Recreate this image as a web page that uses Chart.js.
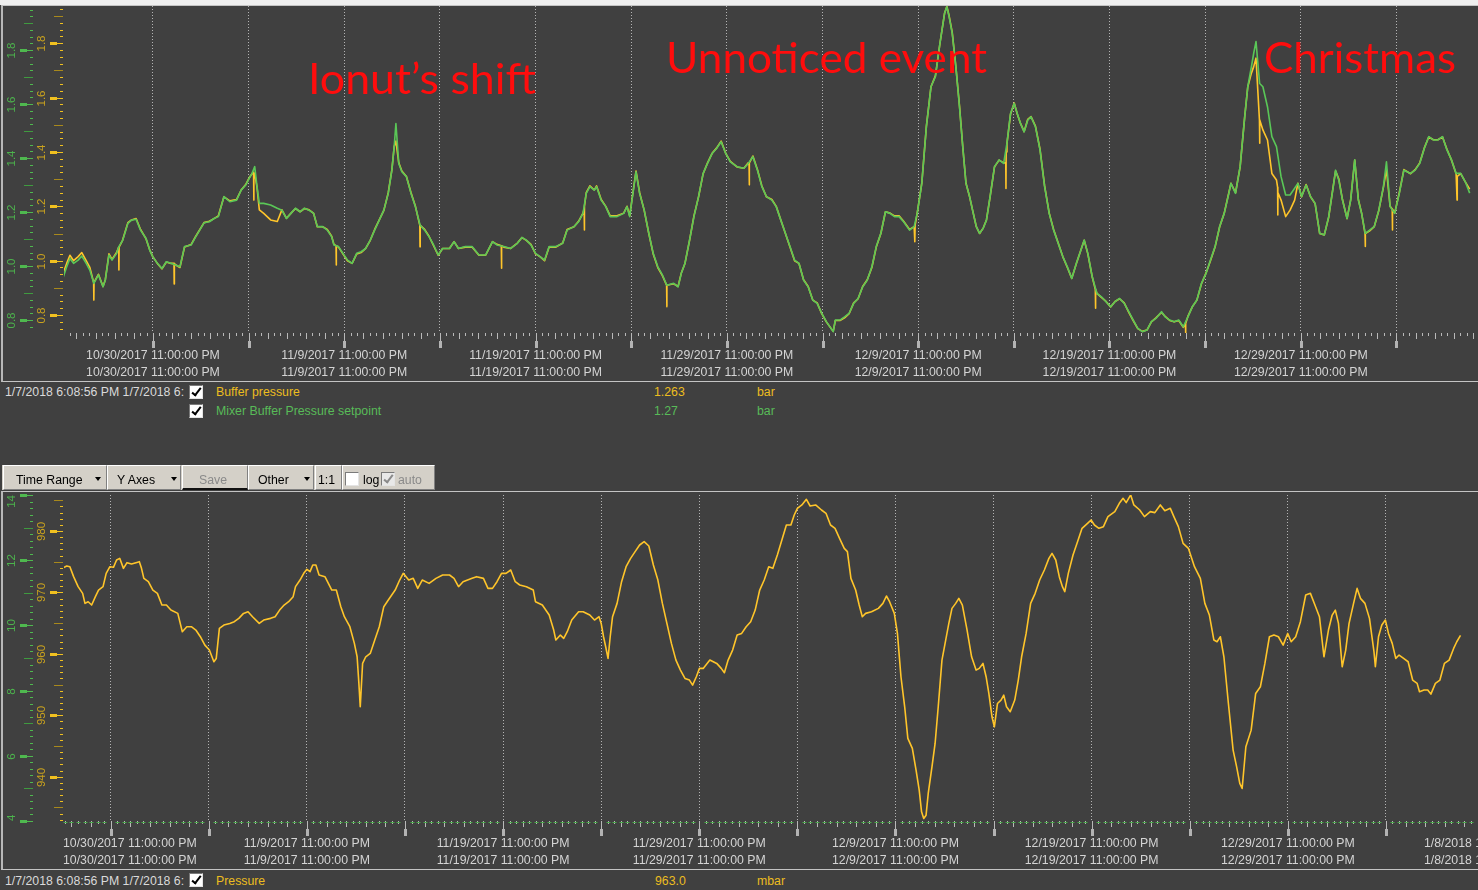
<!DOCTYPE html>
<html lang="en">
<head>
<meta charset="utf-8">
<title>Buffer pressure trend</title>
<script src="https://cdn.jsdelivr.net/npm/chart.js@4.4.1/dist/chart.umd.min.js"></script>
<style>
  html, body { margin: 0; padding: 0; }
  body { width: 1478px; height: 890px; overflow: hidden; position: relative; background: #efefef;
         font-family: "Liberation Sans", Arial, sans-serif; }
  #bg { position: absolute; left: 0; top: 5px; width: 1478px; height: 885px; background: #404040; }
  .frame { position: absolute; left: 1px; width: 1477px; box-sizing: border-box;
           border-top: 1px solid #c4c4c4; border-bottom: 1px solid #c4c4c4; border-left: 2px solid #b8b8b8; }
  canvas { position: absolute; left: 0; }
  .txt { position: absolute; white-space: nowrap; font-size: 12.3px; line-height: 14px; color: #dadada; }
  .stamp { width: 179px; overflow: hidden; }
  .yel { color: #ecbd1f; }
  .grn { color: #58bb58; }
  .cb { position: absolute; width: 14px; height: 14px; box-sizing: border-box; background: #fff;
        border-top: 1px solid #7a7a7a; border-left: 1px solid #7a7a7a;
        border-right: 1px solid #e4e4e4; border-bottom: 1px solid #e4e4e4; }
  .cb.on::after { content: ''; position: absolute; left: 4px; top: 0px; width: 3px; height: 8px;
        border: solid #000; border-width: 0 2px 2px 0; transform: rotate(38deg); }
  .cb.dis { background: #e8e8e8; }
  .cb.dis::after { border-color: #8a8a8a; }
  .note { position: absolute; font-family: Lato, "Open Sans", sans-serif; font-size: 42px; line-height: 42px;
          color: #ff0d0d; white-space: nowrap; transform-origin: 0 0; z-index: 5; }
  #toolbar { position: absolute; left: 2px; top: 465px; width: 433px; height: 25px; background: #d4d0c8; }
  .btn { position: absolute; top: 0; height: 25px; box-sizing: border-box; background: #d4d0c8;
         border-top: 1px solid #fff; border-left: 1px solid #fff;
         border-right: 1px solid #808080; border-bottom: 1px solid #808080;
         font-size: 12.3px; line-height: 28px; color: #000; white-space: nowrap; }
  .btn span, .btn i { position: absolute; }
  .tri { top: 11px; width: 0; height: 0; border-left: 3px solid transparent; border-right: 3px solid transparent;
         border-top: 4px solid #000; }
  .grp span { position: absolute; top: 0; }
</style>
</head>
<body>
<div id="bg"></div>
<div class="frame" style="top:5px;height:377px"></div>
<div class="frame" style="top:491px;height:379px"></div>

<canvas id="topChart" width="1478" height="382" style="top:0;width:1478px;height:382px"></canvas>
<canvas id="bottomChart" width="1478" height="380" style="top:490px;width:1478px;height:380px"></canvas>

<div class="note" data-w="228" style="left:308px;top:57px">Ionut’s shift</div>
<div class="note" data-w="321" style="left:666px;top:36px">Unnoticed event</div>
<div class="note" data-w="192" style="left:1264px;top:36px">Christmas</div>

<!-- top panel legend -->
<div class="txt stamp" style="left:5px;top:385px">1/7/2018 6:08:56 PM 1/7/2018 6:08:56 PM</div>
<div class="cb on" style="left:189px;top:385px"></div>
<div class="txt yel" style="left:216px;top:385px">Buffer pressure</div>
<div class="txt yel" id="bufNow" style="left:654px;top:385px"></div>
<div class="txt yel" style="left:757px;top:385px">bar</div>
<div class="cb on" style="left:189px;top:404px"></div>
<div class="txt grn" style="left:216px;top:404px">Mixer Buffer Pressure setpoint</div>
<div class="txt grn" id="setNow" style="left:654px;top:404px"></div>
<div class="txt grn" style="left:757px;top:404px">bar</div>

<!-- toolbar -->
<div id="toolbar">
  <div class="btn" style="left:1px;width:104px"><span style="left:12px">Time Range</span><i class="tri" style="left:91px"></i></div>
  <div class="btn" style="left:105px;width:74px"><span style="left:9px">Y Axes</span><i class="tri" style="left:63px"></i></div>
  <div class="btn" style="left:180px;width:66px;border-bottom:2px solid #111"><span style="left:16px;color:#8a8a8a">Save</span></div>
  <div class="btn" style="left:246px;width:66px"><span style="left:9px">Other</span><i class="tri" style="left:55px"></i></div>
  <div class="btn" style="left:313px;width:27px"><span style="left:2px">1:1</span></div>
  <div class="btn grp" style="left:340px;width:93px">
    <div class="cb" style="left:2px;top:6px;width:14px;height:14px"></div>
    <span style="left:20px">log</span>
    <div class="cb on dis" style="left:38px;top:6px;width:14px;height:14px"></div>
    <span style="left:55px;color:#8a8a8a">auto</span>
  </div>
</div>

<!-- bottom panel legend -->
<div class="txt stamp" style="left:5px;top:874px">1/7/2018 6:08:56 PM 1/7/2018 6:08:56 PM</div>
<div class="cb on" style="left:189px;top:873px"></div>
<div class="txt yel" style="left:216px;top:874px">Pressure</div>
<div class="txt yel" id="presNow" style="left:655px;top:874px"></div>
<div class="txt yel" style="left:757px;top:874px">mbar</div>

<script>
// Time is measured in days from 10/30/2017 11:00:00 PM.

// ---------- top panel: Buffer pressure (bar) ----------
const bufferDays = [
  -4.74, -4.51, -4.34, -4.15, -3.91, -3.72, -3.49, -3.30, -3.10, -3.09,
  -3.08, -2.85, -2.61, -2.49, -2.30, -2.14, -1.90, -1.79, -1.78, -1.77,
  -1.59, -1.31, -1.12, -0.88, -0.65, -0.36, -0.17, -0.01, 0.23, 0.47,
  0.70, 0.94, 1.10, 1.11, 1.12, 1.18, 1.41, 1.65, 2.00, 2.24,
  2.67, 2.95, 3.19, 3.42, 3.71, 4.02, 4.37, 4.61, 4.85, 5.03,
  5.18, 5.26, 5.27, 5.28, 5.32, 5.44, 5.56, 5.79, 6.15, 6.50,
  6.74, 6.98, 7.21, 7.45, 7.69, 7.92, 8.16, 8.40, 8.59, 8.87,
  9.11, 9.34, 9.46, 9.57, 9.58, 9.59, 9.70, 9.93, 10.17, 10.41,
  10.65, 10.88, 11.12, 11.36, 11.59, 11.83, 12.07, 12.30, 12.49, 12.61,
  12.70, 12.85, 13.01, 13.25, 13.49, 13.72, 13.95, 13.96, 13.97, 14.20,
  14.43, 14.67, 14.91, 15.14, 15.50, 15.74, 15.97, 16.33, 16.68, 17.04,
  17.39, 17.75, 17.98, 18.21, 18.22, 18.23, 18.34, 18.70, 19.05, 19.29,
  19.52, 19.76, 20.00, 20.23, 20.47, 20.71, 21.06, 21.42, 21.65, 22.01,
  22.25, 22.48, 22.54, 22.55, 22.56, 22.65, 22.84, 23.07, 23.19, 23.43,
  23.67, 23.90, 24.26, 24.61, 24.78, 24.92, 25.09, 25.25, 25.44, 25.68,
  25.92, 26.15, 26.39, 26.63, 26.85, 26.86, 26.87, 27.22, 27.45, 27.62,
  27.81, 28.05, 28.28, 28.52, 28.76, 28.99, 29.23, 29.47, 29.70, 29.94,
  30.18, 30.53, 30.89, 31.12, 31.16, 31.17, 31.18, 31.36, 31.60, 31.83,
  32.07, 32.35, 32.58, 32.82, 33.06, 33.30, 33.54, 33.77, 34.01, 34.25,
  34.49, 34.72, 34.96, 35.20, 35.56, 35.67, 35.91, 36.15, 36.39, 36.63,
  36.86, 37.10, 37.34, 37.58, 37.81, 38.05, 38.29, 38.53, 38.76, 39.00,
  39.24, 39.55, 39.79, 39.82, 39.83, 39.84, 39.95, 40.19, 40.43, 40.67,
  40.90, 41.14, 41.38, 41.50, 41.62, 41.78, 41.97, 42.16, 42.33, 42.50,
  42.69, 42.88, 43.04, 43.21, 43.40, 43.57, 43.76, 43.99, 44.23, 44.47,
  44.58, 44.59, 44.60, 44.64, 44.83, 45.02, 45.18, 45.35, 45.54, 45.73,
  45.90, 46.13, 46.37, 46.61, 46.85, 47.08, 47.32, 47.56, 47.80, 48.03,
  48.27, 48.51, 48.68, 48.87, 49.10, 49.26, 49.27, 49.28, 49.34, 49.58,
  49.82, 50.06, 50.29, 50.53, 50.77, 51.01, 51.24, 51.48, 51.72, 51.96,
  52.19, 52.43, 52.72, 52.91, 53.15, 53.38, 53.62, 53.86, 53.97, 53.98,
  53.99, 54.10, 54.33, 54.57, 54.81, 55.05, 55.28, 55.52, 55.76, 56.00,
  56.24, 56.35, 56.59, 56.83, 57.07, 57.23, 57.42, 57.54, 57.66, 57.84,
  57.85, 57.86, 58.02, 58.26, 58.49, 58.73, 58.79, 58.80, 58.81, 58.97,
  59.21, 59.44, 59.68, 59.85, 60.04, 60.28, 60.51, 60.75, 60.99, 61.23,
  61.46, 61.70, 61.82, 61.99, 62.18, 62.42, 62.61, 62.82, 63.01, 63.18,
  63.36, 63.37, 63.38, 63.60, 63.84, 64.08, 64.32, 64.48, 64.67, 64.78,
  64.79, 64.80, 64.91, 65.15, 65.39, 65.74, 65.98, 66.22, 66.46, 66.69,
  66.93, 67.17, 67.41, 67.64, 67.88, 68.12, 68.16, 68.17, 68.18, 68.36,
  68.60, 68.83
];
const bufferValues = [
  0.945, 0.99, 1.02, 1.00, 1.015, 1.03, 1.00, 0.975, 0.92, 0.855,
  0.92, 0.95, 0.905, 0.93, 1.025, 1.005, 1.03, 1.05, 0.966, 1.05,
  1.075, 1.14, 1.15, 1.155, 1.115, 1.08, 1.04, 1.015, 0.99, 0.97,
  0.995, 0.99, 0.99, 0.914, 0.99, 0.985, 0.975, 1.05, 1.06, 1.09,
  1.14, 1.145, 1.155, 1.165, 1.235, 1.22, 1.225, 1.26, 1.28, 1.305,
  1.32, 1.325, 1.223, 1.32, 1.32, 1.27, 1.187, 1.174, 1.15, 1.144,
  1.187, 1.156, 1.174, 1.192, 1.18, 1.192, 1.187, 1.174, 1.125, 1.125,
  1.115, 1.09, 1.06, 1.055, 0.984, 1.055, 1.05, 1.025, 1.00, 0.99,
  1.025, 1.03, 1.045, 1.075, 1.115, 1.15, 1.185, 1.25, 1.335, 1.42,
  1.44, 1.36, 1.33, 1.31, 1.25, 1.20, 1.13, 1.051, 1.13, 1.115,
  1.09, 1.055, 1.02, 1.045, 1.045, 1.07, 1.045, 1.05, 1.05, 1.02,
  1.02, 1.07, 1.06, 1.055, 0.972, 1.055, 1.05, 1.045, 1.065, 1.085,
  1.075, 1.06, 1.025, 1.015, 1.00, 1.05, 1.05, 1.065, 1.115, 1.125,
  1.145, 1.175, 1.19, 1.113, 1.20, 1.25, 1.275, 1.26, 1.275, 1.225,
  1.20, 1.165, 1.165, 1.175, 1.20, 1.165, 1.25, 1.33, 1.25, 1.185,
  1.10, 1.025, 0.975, 0.945, 0.91, 0.831, 0.91, 0.915, 0.905, 0.955,
  0.99, 1.075, 1.165, 1.235, 1.32, 1.36, 1.395, 1.415, 1.44, 1.395,
  1.365, 1.345, 1.34, 1.36, 1.36, 1.279, 1.36, 1.385, 1.335, 1.275,
  1.235, 1.225, 1.20, 1.15, 1.10, 1.05, 1.00, 0.99, 0.93, 0.905,
  0.855, 0.845, 0.805, 0.775, 0.74, 0.78, 0.78, 0.79, 0.805, 0.845,
  0.86, 0.905, 0.93, 0.975, 1.05, 1.10, 1.18, 1.175, 1.165, 1.165,
  1.145, 1.115, 1.125, 1.12, 1.07, 1.13, 1.175, 1.285, 1.495, 1.64,
  1.68, 1.80, 1.91, 1.935, 1.90, 1.84, 1.715, 1.57, 1.42, 1.285,
  1.235, 1.175, 1.125, 1.10, 1.12, 1.15, 1.235, 1.345, 1.37, 1.36,
  1.36, 1.266, 1.40, 1.43, 1.54, 1.58, 1.54, 1.505, 1.475, 1.52,
  1.53, 1.495, 1.41, 1.275, 1.175, 1.115, 1.065, 1.015, 0.975, 0.935,
  0.99, 1.04, 1.075, 1.025, 0.94, 0.895, 0.825, 0.895, 0.88, 0.865,
  0.85, 0.83, 0.85, 0.86, 0.845, 0.81, 0.78, 0.75, 0.74, 0.745,
  0.775, 0.79, 0.81, 0.795, 0.78, 0.775, 0.78, 0.755, 0.77, 0.733,
  0.77, 0.795, 0.83, 0.855, 0.915, 0.955, 1.00, 1.05, 1.125, 1.175,
  1.25, 1.285, 1.25, 1.345, 1.53, 1.64, 1.69, 1.714, 1.745, 1.518,
  1.432, 1.518, 1.481, 1.444, 1.321, 1.297, 1.27, 1.168, 1.25, 1.223,
  1.162, 1.186, 1.223, 1.285, 1.235, 1.28, 1.235, 1.21, 1.10, 1.095,
  1.16, 1.275, 1.33, 1.30, 1.225, 1.155, 1.225, 1.37, 1.225, 1.175,
  1.10, 1.052, 1.10, 1.11, 1.125, 1.185, 1.27, 1.335, 1.20, 1.19,
  1.113, 1.19, 1.175, 1.25, 1.335, 1.32, 1.335, 1.36, 1.415, 1.455,
  1.445, 1.445, 1.455, 1.41, 1.37, 1.32, 1.32, 1.223, 1.31, 1.32,
  1.29, 1.263
];

// ---------- top panel: Mixer Buffer Pressure setpoint (bar) ----------
const setpointDays = [
  -4.74, -4.51, -4.34, -4.15, -3.91, -3.72, -3.49, -3.30, -3.09, -2.85,
  -2.61, -2.49, -2.30, -2.14, -1.90, -1.78, -1.59, -1.31, -1.12, -0.88,
  -0.65, -0.36, -0.17, -0.01, 0.23, 0.47, 0.70, 0.94, 1.18, 1.41,
  1.65, 2.00, 2.24, 2.67, 2.95, 3.19, 3.42, 3.71, 4.02, 4.37,
  4.61, 4.85, 5.03, 5.18, 5.32, 5.44, 5.56, 5.79, 6.15, 6.50,
  6.74, 6.98, 7.21, 7.45, 7.69, 7.92, 8.16, 8.40, 8.59, 8.87,
  9.11, 9.34, 9.46, 9.70, 9.93, 10.17, 10.41, 10.65, 10.88, 11.12,
  11.36, 11.59, 11.83, 12.07, 12.30, 12.49, 12.61, 12.70, 12.85, 13.01,
  13.25, 13.49, 13.72, 13.96, 14.20, 14.43, 14.67, 14.91, 15.14, 15.50,
  15.74, 15.97, 16.33, 16.68, 17.04, 17.39, 17.75, 17.98, 18.34, 18.70,
  19.05, 19.29, 19.52, 19.76, 20.00, 20.23, 20.47, 20.71, 21.06, 21.42,
  21.65, 22.01, 22.25, 22.48, 22.65, 22.84, 23.07, 23.19, 23.43, 23.67,
  23.90, 24.26, 24.61, 24.78, 24.92, 25.09, 25.25, 25.44, 25.68, 25.92,
  26.15, 26.39, 26.63, 26.86, 27.22, 27.45, 27.62, 27.81, 28.05, 28.28,
  28.52, 28.76, 28.99, 29.23, 29.47, 29.70, 29.94, 30.18, 30.53, 30.89,
  31.12, 31.36, 31.60, 31.83, 32.07, 32.35, 32.58, 32.82, 33.06, 33.30,
  33.54, 33.77, 34.01, 34.25, 34.49, 34.72, 34.96, 35.20, 35.56, 35.67,
  35.91, 36.15, 36.39, 36.63, 36.86, 37.10, 37.34, 37.58, 37.81, 38.05,
  38.29, 38.53, 38.76, 39.00, 39.24, 39.55, 39.79, 39.95, 40.19, 40.43,
  40.67, 40.90, 41.14, 41.38, 41.50, 41.62, 41.78, 41.97, 42.16, 42.33,
  42.50, 42.69, 42.88, 43.04, 43.21, 43.40, 43.57, 43.76, 43.99, 44.23,
  44.47, 44.64, 44.83, 45.02, 45.18, 45.35, 45.54, 45.73, 45.90, 46.13,
  46.37, 46.61, 46.85, 47.08, 47.32, 47.56, 47.80, 48.03, 48.27, 48.51,
  48.68, 48.87, 49.10, 49.34, 49.58, 49.82, 50.06, 50.29, 50.53, 50.77,
  51.01, 51.24, 51.48, 51.72, 51.96, 52.19, 52.43, 52.72, 52.91, 53.15,
  53.38, 53.62, 53.86, 54.10, 54.33, 54.57, 54.81, 55.05, 55.28, 55.52,
  55.76, 56.00, 56.24, 56.35, 56.59, 56.83, 57.07, 57.23, 57.42, 57.54,
  57.66, 57.85, 58.02, 58.26, 58.49, 58.73, 58.97, 59.21, 59.44, 59.68,
  59.85, 60.04, 60.28, 60.51, 60.75, 60.99, 61.23, 61.46, 61.70, 61.82,
  61.99, 62.18, 62.42, 62.61, 62.82, 63.01, 63.18, 63.37, 63.60, 63.84,
  64.08, 64.32, 64.48, 64.67, 64.91, 65.15, 65.39, 65.74, 65.98, 66.22,
  66.46, 66.69, 66.93, 67.17, 67.41, 67.64, 67.88, 68.12, 68.36, 68.60,
  68.83
];
const setpointValues = [
  0.948, 0.997, 1.028, 1.010, 1.022, 1.037, 1.010, 0.985, 0.936, 0.967,
  0.923, 0.948, 1.041, 1.022, 1.047, 1.072, 1.094, 1.158, 1.170, 1.173,
  1.133, 1.102, 1.059, 1.035, 1.010, 0.991, 1.016, 1.010, 1.004, 0.997,
  1.072, 1.078, 1.109, 1.160, 1.164, 1.176, 1.183, 1.257, 1.238, 1.244,
  1.281, 1.300, 1.325, 1.343, 1.368, 1.294, 1.232, 1.232, 1.226, 1.214,
  1.207, 1.176, 1.195, 1.214, 1.201, 1.214, 1.207, 1.195, 1.146, 1.146,
  1.133, 1.109, 1.078, 1.072, 1.047, 1.022, 1.010, 1.047, 1.053, 1.065,
  1.096, 1.133, 1.170, 1.207, 1.269, 1.355, 1.442, 1.528, 1.380, 1.349,
  1.331, 1.269, 1.220, 1.152, 1.133, 1.109, 1.078, 1.041, 1.065, 1.065,
  1.090, 1.065, 1.072, 1.072, 1.041, 1.041, 1.090, 1.078, 1.072, 1.065,
  1.084, 1.106, 1.096, 1.078, 1.047, 1.035, 1.022, 1.072, 1.072, 1.084,
  1.133, 1.146, 1.164, 1.195, 1.269, 1.294, 1.281, 1.294, 1.244, 1.220,
  1.183, 1.183, 1.195, 1.220, 1.183, 1.269, 1.349, 1.269, 1.207, 1.121,
  1.047, 0.997, 0.967, 0.929, 0.936, 0.923, 0.973, 1.010, 1.096, 1.183,
  1.257, 1.343, 1.380, 1.417, 1.436, 1.460, 1.417, 1.386, 1.368, 1.362,
  1.380, 1.405, 1.355, 1.294, 1.257, 1.244, 1.220, 1.170, 1.121, 1.072,
  1.022, 1.010, 0.948, 0.923, 0.874, 0.862, 0.825, 0.794, 0.757, 0.800,
  0.800, 0.812, 0.825, 0.862, 0.880, 0.923, 0.948, 0.997, 1.072, 1.121,
  1.201, 1.195, 1.183, 1.183, 1.164, 1.133, 1.146, 1.195, 1.306, 1.516,
  1.664, 1.701, 1.825, 1.936, 1.960, 1.923, 1.862, 1.738, 1.590, 1.442,
  1.306, 1.257, 1.195, 1.146, 1.121, 1.140, 1.170, 1.257, 1.368, 1.393,
  1.380, 1.454, 1.565, 1.602, 1.565, 1.528, 1.497, 1.541, 1.553, 1.516,
  1.430, 1.294, 1.195, 1.133, 1.084, 1.035, 0.997, 0.954, 1.010, 1.059,
  1.096, 1.047, 0.960, 0.899, 0.886, 0.868, 0.849, 0.868, 0.880, 0.862,
  0.831, 0.800, 0.769, 0.757, 0.763, 0.794, 0.806, 0.831, 0.812, 0.800,
  0.794, 0.800, 0.775, 0.812, 0.849, 0.874, 0.936, 0.973, 1.022, 1.072,
  1.146, 1.195, 1.269, 1.306, 1.269, 1.368, 1.553, 1.664, 1.738, 1.788,
  1.831, 1.676, 1.664, 1.590, 1.479, 1.442, 1.331, 1.263, 1.263, 1.288,
  1.306, 1.257, 1.300, 1.257, 1.232, 1.121, 1.115, 1.183, 1.294, 1.355,
  1.318, 1.244, 1.176, 1.244, 1.393, 1.244, 1.195, 1.121, 1.133, 1.146,
  1.207, 1.294, 1.386, 1.220, 1.195, 1.269, 1.355, 1.343, 1.355, 1.380,
  1.436, 1.479, 1.467, 1.467, 1.479, 1.430, 1.393, 1.343, 1.343, 1.312,
  1.270
];

// ---------- bottom panel: Pressure (mbar) ----------
const pressureDays = [
  -2.47, -2.24, -2.08, -1.89, -1.66, -1.43, -1.31, -1.15, -0.97, -0.78,
  -0.62, -0.39, -0.23, -0.04, 0.14, 0.30, 0.46, 0.65, 0.83, 1.06,
  1.29, 1.46, 1.57, 1.69, 1.92, 2.15, 2.38, 2.61, 2.84, 3.07,
  3.42, 3.65, 3.88, 4.11, 4.34, 4.57, 4.80, 5.03, 5.26, 5.38,
  5.54, 5.77, 6.07, 6.30, 6.53, 6.77, 7.00, 7.23, 7.57, 7.80,
  8.15, 8.38, 8.61, 8.84, 9.07, 9.30, 9.42, 9.65, 9.84, 10.00,
  10.16, 10.30, 10.46, 10.62, 10.92, 11.27, 11.50, 11.73, 11.91, 12.19,
  12.42, 12.56, 12.65, 12.72, 12.84, 13.00, 13.23, 13.46, 13.69, 13.92,
  14.15, 14.50, 14.73, 14.91, 15.19, 15.42, 15.65, 15.88, 16.23, 16.58,
  16.92, 17.27, 17.50, 17.73, 17.96, 18.19, 18.42, 18.65, 19.00, 19.23,
  19.46, 19.69, 19.92, 20.15, 20.39, 20.62, 20.85, 21.19, 21.54, 21.65,
  22.00, 22.35, 22.58, 22.69, 22.92, 23.09, 23.27, 23.50, 23.85, 24.08,
  24.42, 24.66, 24.89, 25.00, 25.12, 25.23, 25.35, 25.46, 25.58, 25.81,
  26.04, 26.27, 26.50, 26.73, 26.96, 27.19, 27.43, 27.66, 27.89, 28.12,
  28.35, 28.58, 28.81, 29.04, 29.27, 29.50, 29.66, 29.85, 30.01, 30.20,
  30.54, 30.89, 31.12, 31.28, 31.47, 31.70, 31.93, 32.16, 32.39, 32.62,
  32.85, 33.08, 33.31, 33.54, 33.75, 33.98, 34.21, 34.44, 34.67, 34.84,
  35.00, 35.23, 35.46, 35.65, 35.93, 36.23, 36.46, 36.69, 36.92, 37.15,
  37.39, 37.55, 37.73, 37.97, 38.15, 38.31, 38.48, 38.78, 39.13, 39.36,
  39.54, 39.70, 39.94, 40.10, 40.28, 40.47, 40.63, 40.86, 41.05, 41.21,
  41.33, 41.44, 41.56, 41.67, 41.86, 42.02, 42.18, 42.37, 42.56, 42.72,
  42.88, 43.07, 43.23, 43.41, 43.65, 43.88, 44.11, 44.27, 44.46, 44.62,
  44.76, 44.92, 45.04, 45.20, 45.38, 45.52, 45.66, 45.85, 46.08, 46.26,
  46.43, 46.66, 46.89, 47.12, 47.35, 47.59, 47.82, 47.98, 48.17, 48.35,
  48.51, 48.63, 48.81, 49.05, 49.28, 49.51, 49.79, 49.97, 50.14, 50.37,
  50.60, 50.83, 51.18, 51.41, 51.60, 51.76, 51.99, 52.15, 52.45, 52.69,
  52.99, 53.22, 53.50, 53.73, 54.01, 54.19, 54.42, 54.66, 54.93, 55.24,
  55.54, 55.77, 56.00, 56.23, 56.39, 56.56, 56.74, 56.97, 57.21, 57.39,
  57.55, 57.67, 57.86, 58.13, 58.36, 58.60, 58.83, 59.06, 59.29, 59.52,
  59.76, 59.99, 60.17, 60.40, 60.64, 60.91, 61.15, 61.38, 61.61, 61.84,
  62.07, 62.26, 62.42, 62.58, 62.77, 62.95, 63.12, 63.35, 63.53, 63.70,
  63.93, 64.16, 64.39, 64.46, 64.62, 64.79, 64.97, 65.13, 65.32, 65.50,
  65.67, 65.90, 66.13, 66.36, 66.59, 66.71, 66.94, 67.13, 67.29, 67.52,
  67.75, 67.98, 68.22, 68.45, 68.61, 68.80
];
const pressureValues = [
  973.92, 974.30, 974.19, 972.57, 970.94, 969.85, 968.22, 968.49, 967.95, 969.31,
  970.39, 970.94, 973.11, 974.19, 974.09, 975.28, 975.55, 973.92, 974.85, 974.63,
  974.85, 975.01, 973.92, 972.29, 971.75, 970.39, 969.85, 967.95, 967.95, 967.13,
  966.59, 963.61, 964.42, 964.42, 963.88, 962.79, 961.43, 960.62, 958.72, 959.26,
  964.15, 964.69, 964.96, 965.24, 965.78, 966.59, 966.86, 966.05, 964.96, 965.51,
  965.78, 966.05, 967.13, 967.95, 968.49, 969.31, 970.94, 972.02, 973.11, 973.76,
  973.38, 974.47, 974.47, 972.84, 972.57, 970.39, 970.39, 967.68, 966.05, 964.42,
  961.71, 959.53, 955.20, 951.39, 958.45, 959.53, 960.08, 962.25, 964.42, 967.68,
  968.76, 970.39, 972.02, 973.11, 972.02, 972.29, 970.66, 972.02, 971.48, 972.29,
  972.84, 972.84, 972.29, 970.94, 971.75, 972.02, 972.29, 972.57, 972.29, 970.66,
  970.66, 971.75, 973.11, 973.11, 973.65, 971.75, 971.21, 970.94, 970.39, 968.49,
  967.95, 966.32, 963.88, 962.25, 963.06, 962.52, 963.61, 965.51, 966.86, 966.86,
  966.32, 965.51, 966.05, 964.96, 962.79, 961.16, 959.26, 962.79, 966.05, 968.22,
  971.75, 974.19, 975.55, 976.64, 977.72, 978.27, 977.56, 974.47, 972.02, 968.22,
  964.96, 961.71, 958.99, 957.36, 956.01, 955.74, 954.92, 956.28, 957.64, 957.64,
  958.99, 958.45, 957.64, 956.93, 958.99, 960.62, 963.06, 963.33, 964.42, 965.24,
  967.13, 970.39, 972.02, 974.19, 973.92, 976.09, 978.54, 980.98, 980.98, 982.61,
  983.69, 984.24, 985.16, 984.07, 984.24, 983.42, 982.88, 980.98, 980.44, 978.81,
  977.18, 976.64, 972.29, 970.39, 967.95, 966.05, 966.59, 966.86, 967.41, 968.22,
  969.42, 968.49, 966.59, 963.33, 956.28, 951.39, 946.24, 944.61, 941.08, 937.82,
  934.29, 933.21, 933.75, 937.28, 941.62, 945.42, 951.39, 958.99, 962.25, 964.96,
  967.41, 968.22, 969.04, 967.95, 963.88, 959.53, 957.36, 957.64, 958.45, 956.28,
  953.56, 949.76, 948.13, 951.93, 952.48, 953.29, 951.39, 950.58, 952.48, 955.74,
  959.53, 963.33, 968.22, 969.85, 972.02, 973.65, 975.55, 976.37, 975.28, 972.57,
  970.94, 970.12, 973.11, 976.09, 978.27, 980.44, 981.25, 981.79, 980.98, 980.44,
  980.71, 982.34, 983.15, 984.51, 985.32, 984.62, 985.87, 984.24, 983.42, 982.34,
  983.15, 982.99, 984.24, 983.31, 983.69, 982.34, 980.71, 977.99, 977.18, 974.19,
  972.29, 968.22, 966.32, 962.25, 961.98, 962.79, 959.53, 951.93, 944.34, 941.62,
  938.91, 938.09, 944.88, 947.59, 953.56, 954.65, 958.45, 962.79, 963.06, 962.79,
  961.43, 963.33, 961.98, 962.79, 965.24, 969.58, 969.85, 967.95, 966.05, 959.53,
  963.88, 966.32, 967.13, 964.96, 957.91, 960.62, 964.96, 968.22, 970.66, 969.04,
  968.22, 965.78, 960.35, 957.91, 962.79, 964.69, 965.51, 963.33, 961.71, 959.26,
  959.81, 959.26, 958.72, 955.74, 955.20, 953.84, 954.11, 954.11, 953.45, 955.20,
  955.74, 958.45, 958.99, 960.89, 961.98, 963.0
];

// ---------- time axis ----------
const gridDays = [0, 5, 10, 15, 20, 25, 30, 35, 40, 45, 50, 55, 60, 65];
const topTickDays = [0, 10, 20, 30, 40, 50, 60];
const topTickLabels = [
  '10/30/2017 11:00:00 PM', '11/9/2017 11:00:00 PM', '11/19/2017 11:00:00 PM',
  '11/29/2017 11:00:00 PM', '12/9/2017 11:00:00 PM', '12/19/2017 11:00:00 PM',
  '12/29/2017 11:00:00 PM'
];
const bottomTickDays = [0, 10, 20, 30, 40, 50, 60, 70];
const bottomTickLabels = topTickLabels.concat(['1/8/2018 11:00:00 PM']);

// visible windows of the two panels, in days
const topRange = { min: -4.65, max: 69.16 };
const bottomRange = { min: -2.38, max: 69.59 };

const YELLOW = '#ffc52a';
const GREEN = '#5ac757';
const AXIS_FONT = '12.3px "Liberation Sans", Arial, sans-serif';
const VALUE_FONT = '11.5px "Liberation Sans", Arial, sans-serif';

// side-by-side value ladders drawn beside each panel
const decorSpecs = {
  topChart: {
    yAxes: [
      { id: 'ySet', right: 33, labelX: 12, minor: 0.025, medium: 0.1, major: 0.2, first: 0.8, last: 1.8, digits: 1,
        tick: '#4fb84f', medTick: '#3f9a3f', text: '#4cb34c' },
      { id: 'yBuf', right: 63, labelX: 42, minor: 0.025, medium: 0.1, major: 0.2, first: 0.8, last: 1.8, digits: 1,
        tick: '#f0c020', medTick: '#a8891c', text: '#c9a21e' }
    ],
    tickDays: topTickDays, tickLabels: topTickLabels, greenTicks: false
  },
  bottomChart: {
    yAxes: [
      { id: 'yAux', right: 33, labelX: 12, minor: 0.2, medium: 1, major: 2, first: 4, last: 14, digits: 0,
        tick: '#4fb84f', medTick: '#3f9a3f', text: '#4cb34c' },
      { id: 'yPres', right: 63, labelX: 42, minor: 1, medium: 5, major: 10, first: 940, last: 980, digits: 0,
        tick: '#f0c020', medTick: '#a8891c', text: '#c9a21e' }
    ],
    tickDays: bottomTickDays, tickLabels: bottomTickLabels, greenTicks: true
  }
};

function drawYLadder(ctx, chart, a) {
  const s = chart.scales[a.id], area = chart.chartArea;
  const perMajor = Math.round(a.major / a.minor), perMed = Math.round(a.medium / a.minor);
  const n0 = Math.ceil(s.min / a.minor - 1e-6), n1 = Math.floor(s.max / a.minor + 1e-6);
  ctx.lineWidth = 1;
  for (let n = n0; n <= n1; n++) {
    const v = n * a.minor;
    const y = Math.round(s.getPixelForValue(v)) + 0.5;
    if (y < area.top - 1 || y > area.bottom + 1) continue;
    const isMajor = n % perMajor === 0, isMed = !isMajor && n % perMed === 0;
    const len = isMajor ? 13 : (isMed ? 9 : 3);
    ctx.strokeStyle = isMed ? a.medTick : a.tick;
    ctx.beginPath(); ctx.moveTo(a.right - len, y); ctx.lineTo(a.right, y); ctx.stroke();
    if (!isMajor) continue;
    ctx.fillStyle = a.tick;
    ctx.fillRect(a.right - 13, y - 1.5, 7, 3);
    if (v < a.first - 1e-6 || v > a.last + 1e-6) continue;
    const txt = v.toFixed(a.digits);
    ctx.font = VALUE_FONT;
    const w = ctx.measureText(txt).width;
    const yc = Math.min(Math.max(y, area.top + w / 2), area.bottom - w / 2);
    ctx.save();
    ctx.translate(a.labelX, yc);
    ctx.rotate(-Math.PI / 2);
    ctx.fillStyle = a.text; ctx.textAlign = 'center'; ctx.textBaseline = 'middle';
    ctx.fillText(txt, 0, 0);
    ctx.restore();
  }
}

function drawXLadder(ctx, chart, spec) {
  const s = chart.scales.x, area = chart.chartArea, b = area.bottom;
  const n0 = Math.ceil(s.min * 3), n1 = Math.floor(s.max * 3);
  ctx.lineWidth = 1;
  for (let n = n0; n <= n1; n++) {
    const x = Math.round(s.getPixelForValue(n / 3)) + 0.5;
    if (x > area.right) continue;
    const isMajor = n % 15 === 0, isDay = n % 3 === 0;
    const len = isMajor ? 8 : (isDay ? 6 : 3);
    ctx.strokeStyle = '#b9b9b9';
    ctx.beginPath(); ctx.moveTo(x, b); ctx.lineTo(x, b + len); ctx.stroke();
    if (isMajor) { ctx.fillStyle = '#b3b3b3'; ctx.fillRect(x - 1.5, b + 8, 3, 7); }
    if (spec.greenTicks && !isMajor) {
      ctx.strokeStyle = '#49a849';
      ctx.beginPath(); ctx.moveTo(x - 2, b + 1.5); ctx.lineTo(x + 2, b + 1.5); ctx.stroke();
    }
  }
  ctx.font = AXIS_FONT; ctx.fillStyle = '#d4d4d4';
  ctx.textBaseline = 'middle'; ctx.textAlign = 'left';
  spec.tickLabels.forEach((txt, i) => {
    const x = s.getPixelForValue(spec.tickDays[i]);
    const w = ctx.measureText(txt).width;
    const left = Math.max(x - w / 2, area.left - 1);
    ctx.fillText(txt, left, b + 23);
    ctx.fillText(txt, left, b + 39.5);
  });
}

const panelDecor = {
  id: 'panelDecor',
  afterDraw(chart) {
    const spec = decorSpecs[chart.canvas.id];
    if (!spec) return;
    const ctx = chart.ctx;
    ctx.save();
    spec.yAxes.forEach(a => drawYLadder(ctx, chart, a));
    drawXLadder(ctx, chart, spec);
    ctx.restore();
  }
};

function pts(xs, ys) { return xs.map((x, i) => ({ x, y: ys[i] })); }

function timeScale(range) {
  return {
    type: 'linear', min: range.min, max: range.max,
    afterFit(s) { s.height = 0; },
    afterBuildTicks(s) { s.ticks = gridDays.map(v => ({ value: v })); },
    ticks: { display: false },
    grid: { color: '#b4b4b4', lineWidth: 1, drawTicks: false },
    border: { display: false, dash: [1, 2] }
  };
}

function panelOptions(range, yScales, padTop) {
  return {
    responsive: false, maintainAspectRatio: false, animation: false, devicePixelRatio: 1,
    events: [],
    layout: { padding: { left: 64, right: 2, top: padTop, bottom: 49 } },
    plugins: { legend: { display: false }, tooltip: { enabled: false } },
    elements: { point: { radius: 0 }, line: { tension: 0, borderJoinStyle: 'round' } },
    scales: Object.assign({ x: timeScale(range) }, yScales)
  };
}

const lineStyle = { pointRadius: 0, borderWidth: 1.6, fill: false, spanGaps: true };

new Chart(document.getElementById('topChart'), {
  type: 'line',
  data: {
    datasets: [
      Object.assign({ label: 'Mixer Buffer Pressure setpoint', data: pts(setpointDays, setpointValues),
        yAxisID: 'ySet', borderColor: GREEN, order: 1 }, lineStyle),
      Object.assign({ label: 'Buffer pressure', data: pts(bufferDays, bufferValues),
        yAxisID: 'yBuf', borderColor: YELLOW, order: 2 }, lineStyle)
    ]
  },
  options: panelOptions(topRange, {
    ySet: { type: 'linear', display: false, min: 0.752, max: 1.963 },
    yBuf: { type: 'linear', display: false, min: 0.734, max: 1.937 }
  }, 6),
  plugins: [panelDecor]
});

new Chart(document.getElementById('bottomChart'), {
  type: 'line',
  data: {
    datasets: [
      Object.assign({ label: 'Pressure', data: pts(pressureDays, pressureValues),
        yAxisID: 'yPres', borderColor: YELLOW }, lineStyle)
    ]
  },
  options: panelOptions(bottomRange, {
    yAux: { type: 'linear', display: false, min: 4, max: 14 },
    yPres: { type: 'linear', display: false, min: 932.8, max: 985.86 }
  }, 5),
  plugins: [panelDecor]
});

// current readings shown in the legends
document.getElementById('bufNow').textContent = bufferValues[bufferValues.length - 1].toFixed(3);
document.getElementById('setNow').textContent = setpointValues[setpointValues.length - 1].toFixed(2);
document.getElementById('presNow').textContent = pressureValues[pressureValues.length - 1].toFixed(1);

// fit the red notes to their widths
document.querySelectorAll('.note').forEach(el => {
  const w = el.getBoundingClientRect().width;
  el.style.transform = 'scaleX(' + (Number(el.dataset.w) / w) + ')';
});
</script>
</body>
</html>
